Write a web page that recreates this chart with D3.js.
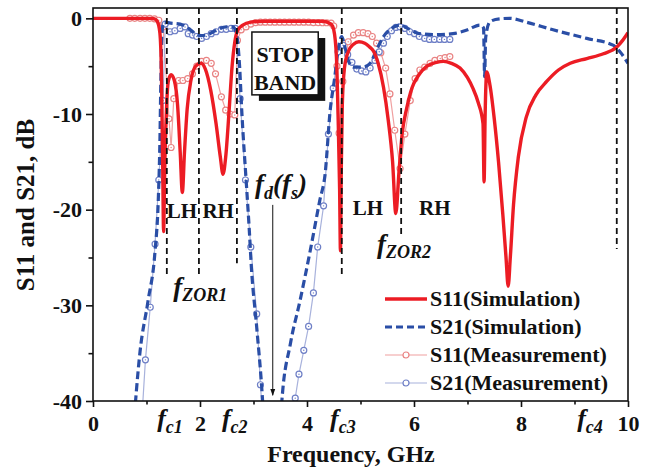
<!DOCTYPE html>
<html>
<head>
<meta charset="utf-8">
<script src="https://d3js.org/d3.v7.min.js"></script>
<style>
  body { margin: 0; background: #fff; }
  svg { font-family: "Liberation Serif", "Times New Roman", serif; font-weight: bold; }
</style>
</head>
<body>
<div id="chart"></div>
<script>
// [GHz, dB]
const s11Sim = [
  [0, 0], [0.6, 0], [1.1, 0], [1.15, -0.05], [1.2, -0.3], [1.25, -1.5], [1.28, -6], [1.3, -14], [1.32, -22.3],
  [1.34, -16], [1.37, -10], [1.41, -6.5], [1.46, -5.9], [1.52, -6.5], [1.58, -9], [1.63, -14], [1.67, -18.2],
  [1.71, -14], [1.76, -9.5], [1.83, -6.5], [1.92, -5.0], [2.02, -4.7], [2.1, -5.3], [2.2, -7.5], [2.3, -11],
  [2.38, -14.5], [2.43, -16.3], [2.48, -14.5], [2.54, -10], [2.6, -5], [2.65, -2.5], [2.7, -1.3], [2.8, -0.7],
  [2.95, -0.4], [3.2, -0.3], [4.3, -0.3], [4.45, -0.6], [4.5, -1.2], [4.55, -4], [4.58, -10], [4.61, -18],
  [4.625, -24.3], [4.64, -16], [4.66, -9], [4.7, -5.2], [4.77, -3.5], [4.87, -2.7], [4.97, -2.45], [5.08, -2.6],
  [5.17, -3.0], [5.24, -3.4], [5.33, -4.7], [5.43, -7.2], [5.52, -10.7], [5.6, -15], [5.66, -20.4], [5.72, -16],
  [5.78, -12], [5.86, -9.5], [5.96, -7.3], [6.08, -6.0], [6.24, -5.0], [6.42, -4.6], [6.55, -4.5], [6.7, -4.7],
  [6.86, -5.2], [7.0, -6.2], [7.1, -7.3], [7.2, -8.8], [7.29, -11], [7.31, -17.1], [7.33, -10], [7.36, -5.6],
  [7.42, -7], [7.5, -10.5], [7.58, -15], [7.66, -20.5], [7.72, -25], [7.76, -28], [7.8, -25], [7.86, -19.5],
  [7.95, -14.5], [8.1, -10.3], [8.28, -8.0], [8.48, -6.6], [8.7, -5.4], [8.92, -4.7], [9.23, -4.2], [9.54, -3.7],
  [9.79, -3.0], [9.9, -2.3], [10, -1.5]
];

const s21Sim = [
  [0.74, -44], [0.88, -34.8], [1.03, -29.5], [1.16, -24.3], [1.22, -19], [1.25, -13], [1.27, -6], [1.29, -1.5],
  [1.32, -0.4], [1.45, -0.5], [1.63, -0.6], [1.8, -1.1], [1.91, -1.6], [2.02, -1.8], [2.12, -1.75], [2.25, -1.4],
  [2.37, -1.05], [2.5, -0.9], [2.62, -0.9], [2.69, -1.9], [2.74, -5], [2.78, -9.6], [2.87, -17.6], [2.92, -22],
  [2.96, -26], [3.06, -32.3], [3.17, -40], [3.2, -43]
];
const s21SimB = [
  [3.5, -43], [3.53, -40], [3.69, -34], [3.87, -29.5], [4.06, -24.3], [4.24, -19], [4.34, -16.2], [4.43, -9.8],
  [4.52, -6.1], [4.59, -3.0], [4.65, -1.9], [4.7, -2.8], [4.77, -4.4], [4.87, -5.1], [5.05, -5.1], [5.18, -4.7],
  [5.3, -3.3], [5.43, -1.9], [5.58, -1.05], [5.74, -0.7], [5.9, -1.1], [6.1, -1.6], [6.4, -1.7], [6.73, -1.6],
  [7.0, -1.2], [7.23, -0.7], [7.3, -1.0], [7.32, -6.1], [7.34, -2], [7.42, -0.35], [7.6, -0.05], [7.79, 0],
  [8.1, -0.4], [8.6, -1.2], [9.23, -2.1], [9.72, -2.8], [9.85, -3.5], [10, -4.7]
];

const s11Meas = [
  [0.69, 0], [0.78, 0], [0.88, 0], [0.97, 0], [1.06, 0], [1.15, -0.05], [1.23, -0.2], [1.31, -0.9], [1.42, -10.5],
  [1.46, -13.5], [1.51, -8.4], [1.6, -6.5], [1.68, -6.5], [1.77, -6.3], [1.86, -5.8], [1.94, -5.0], [2.03, -4.5],
  [2.12, -4.4], [2.21, -4.7], [2.29, -5.8], [2.4, -8.2], [2.48, -9.6], [2.56, -10], [2.65, -10.1], [2.7, -2.3],
  [2.77, -1.2], [2.86, -0.9], [2.95, -0.6], [3.04, -0.45], [3.13, -0.4], [3.22, -0.4], [3.31, -0.4], [3.4, -0.4],
  [3.49, -0.4], [3.58, -0.4], [3.67, -0.4], [3.76, -0.4], [3.85, -0.4], [3.94, -0.4], [4.03, -0.4], [4.12, -0.45],
  [4.21, -0.45], [4.29, -0.46], [4.37, -0.46], [4.45, -0.5], [4.5, -0.8], [4.56, -5], [4.6, -12], [4.67, -6.6],
  [4.77, -2.45], [4.87, -1.75], [4.96, -1.5], [5.05, -1.5], [5.14, -1.6], [5.22, -1.9], [5.3, -2.6], [5.38, -3.6],
  [5.47, -5.2], [5.55, -7.9], [5.64, -11.7], [5.74, -15.7], [5.83, -12.1], [5.93, -8.6], [6.02, -6.3],
  [6.11, -5.4], [6.2, -5.1], [6.3, -4.7], [6.39, -4.4], [6.49, -4.2], [6.58, -4.1], [6.67, -4.0]
];

const s21Meas = [
  [0.9, -43], [0.98, -35.7], [1.07, -30.2], [1.16, -23.6], [1.23, -16.9], [1.31, -8.6], [1.35, -0.6], [1.44, -1.4],
  [1.53, -1.3], [1.63, -1.05], [1.72, -0.9], [1.78, -1.6], [1.86, -1.75], [1.94, -1.9], [2.03, -2.1], [2.12, -1.9],
  [2.21, -1.6], [2.3, -1.4], [2.4, -1.15], [2.49, -1.15], [2.58, -1.05], [2.66, -1.05], [2.75, -8.4], [2.85, -16.9],
  [2.95, -23.9], [3.06, -30.9], [3.13, -38.3], [3.22, -46], [3.7, -46], [3.78, -39.7], [3.85, -37.2], [3.94, -34.7],
  [4.03, -32.2], [4.12, -28.7], [4.2, -23.9], [4.31, -19.6], [4.4, -12.1], [4.49, -7.3], [4.58, -3.5], [4.67, -2.8],
  [4.76, -3.8], [4.84, -4.6], [4.93, -5.3], [5.02, -5.5], [5.1, -5.6], [5.18, -5.2], [5.27, -4.4], [5.35, -3.5],
  [5.43, -2.6], [5.5, -1.9], [5.58, -1.3], [5.66, -0.95], [5.74, -0.9], [5.83, -1.05], [5.92, -1.4], [6.01, -1.6],
  [6.1, -1.9], [6.2, -2.1], [6.29, -2.2], [6.38, -2.2], [6.48, -2.2], [6.57, -2.2], [6.67, -2.2]
];

// vertical marker lines: [GHz, lower end dB]
const markerLines = [[1.38, -27.1], [1.98, -27.1], [2.69, -25.6], [4.65, -27.1], [5.76, -22.9], [9.79, -24.1]];
const xTicks = [0, 2, 4, 6, 8, 10];
const xMinor = [1, 3, 5, 7, 9];
const yTicks = [0, -10, -20, -30, -40];
const yMinor = [-5, -15, -25, -35];
// cutoff labels on the frequency axis: [subscript, start GHz]
const fcLabels = [["c1", 1.2], ["c2", 2.41], ["c3", 4.43], ["c4", 9.05]];
const legendItems = ["S11(Simulation)", "S21(Simulation)", "S11(Measurement)", "S21(Measurement)"];

const width = 650, height = 472;
const red = "#ec1c24", blue = "#2a4ea6", pink = "#f0a0a0", pinkMark = "#e98383", lblue = "#a8b2dc", lblueMark = "#6e7fc6";

const x = d3.scaleLinear().domain([0, 10]).range([93, 628]);
const y = d3.scaleLinear().domain([-40, 1.08]).range([401, 8]);

const svg = d3.select("#chart").append("svg")
  .attr("width", width)
  .attr("height", height);

svg.append("defs").append("clipPath").attr("id", "clip")
  .append("rect").attr("x", 93).attr("y", 8).attr("width", 535).attr("height", 393);
svg.select("defs").append("marker")
  .attr("id", "arrow").attr("viewBox", "0 0 10 10").attr("refX", 9).attr("refY", 5)
  .attr("markerWidth", 7).attr("markerHeight", 9).attr("orient", "auto")
  .append("path").attr("d", "M0,1.5 L10,5 L0,8.5 Z").attr("fill", "#111");

const plot = svg.append("g").attr("clip-path", "url(#clip)");

const line = d3.line().x(d => x(d[0])).y(d => y(d[1])).curve(d3.curveMonotoneX);
const straight = d3.line().x(d => x(d[0])).y(d => y(d[1]));

// measurement curves
plot.append("path").attr("d", straight(s11Meas)).attr("fill", "none").attr("stroke", pink).attr("stroke-width", 1.2);
plot.append("path").attr("d", straight(s21Meas)).attr("fill", "none").attr("stroke", lblue).attr("stroke-width", 1.2);

function markers(data, color) {
  const g = plot.append("g");
  g.selectAll("circle.m").data(data).join("circle")
    .attr("class", "m")
    .attr("cx", d => x(d[0])).attr("cy", d => y(d[1])).attr("r", 3)
    .attr("fill", "#fff").attr("stroke", color).attr("stroke-width", 1.2);
  g.selectAll("circle.c").data(data).join("circle")
    .attr("class", "c")
    .attr("cx", d => x(d[0])).attr("cy", d => y(d[1])).attr("r", 0.7)
    .attr("fill", color);
}
markers(s11Meas, pinkMark);
markers(s21Meas, lblueMark);

// simulation curves
[s21Sim, s21SimB].forEach(seg => {
  plot.append("path").attr("d", line(seg)).attr("fill", "none")
    .attr("stroke", blue).attr("stroke-width", 3.2).attr("stroke-dasharray", "8,4");
});
plot.append("path").attr("d", line(s11Sim)).attr("fill", "none")
  .attr("stroke", red).attr("stroke-width", 3.4).attr("stroke-linejoin", "round");

// vertical dashed marker lines
svg.append("g").selectAll("line").data(markerLines).join("line")
  .attr("x1", d => x(d[0])).attr("x2", d => x(d[0]))
  .attr("y1", y(1.08)).attr("y2", d => y(d[1]))
  .attr("stroke", "#111").attr("stroke-width", 1.8).attr("stroke-dasharray", "6,4");

// frame
svg.append("rect").attr("x", 93).attr("y", 8).attr("width", 535).attr("height", 393)
  .attr("fill", "none").attr("stroke", "#111").attr("stroke-width", 1.6);

// axes
const xAxis = svg.append("g").attr("transform", "translate(0,401)")
  .call(d3.axisBottom(x).tickValues(xTicks).tickSize(6).tickPadding(8.5).tickFormat(d => d));
const xMinorAxis = svg.append("g").attr("transform", "translate(0,401)")
  .call(d3.axisBottom(x).tickValues(xMinor).tickSize(3.5).tickFormat(""));
const yAxis = svg.append("g").attr("transform", "translate(93,0)")
  .call(d3.axisLeft(y).tickValues(yTicks).tickSize(7).tickPadding(4).tickFormat(d => d));
const yMinorAxis = svg.append("g").attr("transform", "translate(93,0)")
  .call(d3.axisLeft(y).tickValues(yMinor).tickSize(4.5).tickFormat(""));

[xAxis, xMinorAxis, yAxis, yMinorAxis].forEach(a => {
  a.select(".domain").remove();
  a.selectAll(".tick line").attr("stroke", "#111").attr("stroke-width", 1.6);
  a.selectAll("text").attr("font-family", "Liberation Serif").attr("font-weight", "bold")
    .attr("font-size", 22).attr("fill", "#111");
});

// italic f labels helper
function fLabel(gx, gy, parts) {
  const t = svg.append("text").attr("x", gx).attr("y", gy)
    .attr("font-style", "italic").attr("font-weight", "bold").attr("fill", "#111");
  parts.forEach(p => {
    t.append("tspan").text(p[0]).attr("font-size", p[1]).attr("dy", p[2]);
  });
  return t;
}

fcLabels.forEach(d => {
  fLabel(x(d[1]), 427, [["f", 26, 0], [d[0], 18, 6]]);
});

fLabel(x(1.5), y(-29.0), [["f", 27, 0], ["ZOR1", 18, 5]]);
fLabel(x(5.31), y(-24.5), [["f", 27, 0], ["ZOR2", 18, 5]]);
fLabel(x(3.03), y(-18.3), [["f", 27, 0], ["d", 18, 6], ["(", 27, -6], ["f", 27, 0], ["s", 18, 6], [")", 27, -6]]);

// arrow
svg.append("line")
  .attr("x1", x(3.36)).attr("x2", x(3.36)).attr("y1", y(-19.5)).attr("y2", y(-39.4))
  .attr("stroke", "#111").attr("stroke-width", 1).attr("marker-end", "url(#arrow)");

// LH / RH
const regionLabels = [["LH", 1.66, -20.9], ["RH", 2.34, -20.9], ["LH", 5.14, -20.6], ["RH", 6.39, -20.6]];
svg.append("g").selectAll("text").data(regionLabels).join("text")
  .attr("x", d => x(d[1])).attr("y", d => y(d[2]))
  .attr("text-anchor", "middle").attr("font-size", 21).attr("fill", "#111")
  .text(d => d[0]);

// STOP BAND box
const bx0 = x(2.97), bx1 = x(4.21), by0 = y(-1.43), by1 = y(-8.0);
svg.append("rect").attr("x", bx0 + 7).attr("y", by0 + 6).attr("width", bx1 - bx0).attr("height", by1 - by0).attr("fill", "#111");
svg.append("rect").attr("x", bx0).attr("y", by0).attr("width", bx1 - bx0).attr("height", by1 - by0)
  .attr("fill", "#fff").attr("stroke", "#111").attr("stroke-width", 1.5);
svg.append("text").attr("x", (bx0 + bx1) / 2).attr("y", by0 + 30).attr("text-anchor", "middle")
  .attr("font-size", 22).attr("fill", "#111").text("STOP");
svg.append("text").attr("x", (bx0 + bx1) / 2).attr("y", by0 + 58).attr("text-anchor", "middle")
  .attr("font-size", 22).attr("fill", "#111").text("BAND");

// axis titles
svg.append("text").attr("x", 351).attr("y", 462).attr("text-anchor", "middle")
  .attr("font-size", 24).attr("fill", "#111").text("Frequency, GHz");
svg.append("text").attr("transform", "translate(34,205) rotate(-90)").attr("text-anchor", "middle")
  .attr("font-size", 25).attr("fill", "#111").text("S11 and S21, dB");

// legend
const legend = svg.append("g").attr("transform", "translate(385,299)");
const styles = [
  { stroke: red, width: 3.4, dash: null, mark: null },
  { stroke: blue, width: 3.2, dash: "7,4", mark: null },
  { stroke: pink, width: 1.2, dash: null, mark: pinkMark },
  { stroke: lblue, width: 1.2, dash: null, mark: lblueMark }
];
legendItems.forEach((name, i) => {
  const g = legend.append("g").attr("transform", `translate(0,${i * 28})`);
  const s = styles[i];
  g.append("line").attr("x1", 0).attr("x2", 42).attr("y1", 0).attr("y2", 0)
    .attr("stroke", s.stroke).attr("stroke-width", s.width).attr("stroke-dasharray", s.dash);
  if (s.mark) {
    g.append("circle").attr("cx", 21).attr("cy", 0).attr("r", 3).attr("fill", "#fff")
      .attr("stroke", s.mark).attr("stroke-width", 1.2);
  }
  g.append("text").attr("x", 45).attr("y", 7).attr("font-size", 22).attr("fill", "#111").text(name);
});
</script>
</body>
</html>
